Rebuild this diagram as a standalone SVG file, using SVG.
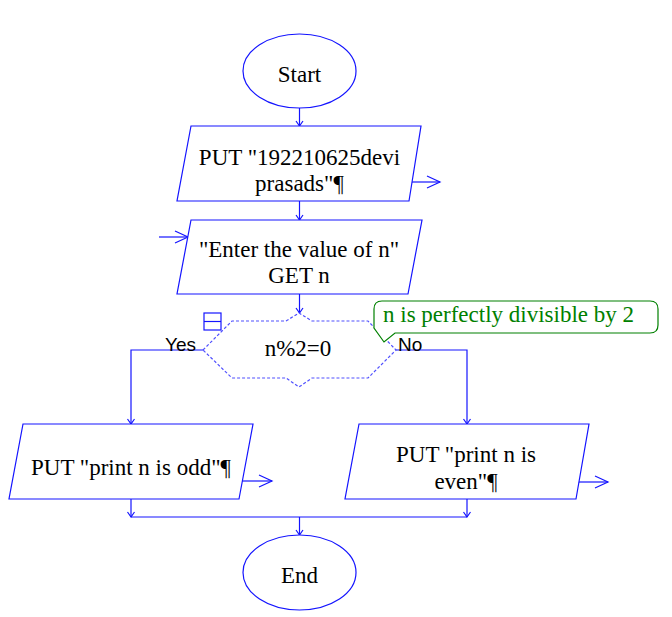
<svg xmlns="http://www.w3.org/2000/svg" width="672" height="617" viewBox="0 0 672 617">
<style>
.shape{fill:#fff;stroke:#1414ff;stroke-width:1.2}
.dec{fill:#fff;stroke:#5050ff;stroke-width:1.2;stroke-dasharray:3,2}
.t{font-family:"Liberation Serif","Times New Roman",serif;font-size:23px;fill:#000;text-anchor:middle}
.lbl{font-family:"Liberation Sans",Arial,sans-serif;font-size:19px;fill:#000}
.cm{font-family:"Liberation Serif","Times New Roman",serif;font-size:23px;fill:#008000}
.c{fill:none;stroke:#1414ff;stroke-width:1.2}
.cs{marker-end:url(#ah)}
.cl{marker-end:url(#ahl)}
</style>
<defs>
<marker id="ah" markerUnits="userSpaceOnUse" markerWidth="10" markerHeight="10" refX="5" refY="4" orient="auto" viewBox="0 0 10 10" overflow="visible">
<path d="M0,0.5 L5,4 L0,7.5" fill="none" stroke="#1414ff" stroke-width="1.2"/>
</marker>
<marker id="ahl" markerUnits="userSpaceOnUse" markerWidth="14" markerHeight="14" refX="13" refY="6" orient="auto" viewBox="0 0 14 14" overflow="visible">
<path d="M0,0 L13,6 L0,12" fill="none" stroke="#1414ff" stroke-width="1.2"/>
</marker>
</defs>
<g id="connectors">
<path class="c cs" d="M299.5,108 V126"/>
<path class="c cs" d="M299.5,201 V220"/>
<path class="c cl" d="M410,182 H440"/>
<path class="c cl" d="M159,237 H188"/>
<path class="c cs" d="M299.5,294 V313"/>
<path class="c cs" d="M203,350 H131 V424"/>
<path class="c cs" d="M396,350 H467 V424"/>
<path class="c cl" d="M240,481 H272"/>
<path class="c cl" d="M576,482 H608"/>
<path class="c cs" d="M131,499 V517"/>
<path class="c cs" d="M467,499 V517"/>
<path class="c" d="M131,517 H467"/>
<path class="c cs" d="M299.5,517 V535"/>
</g>
<g id="start">
<ellipse class="shape" cx="299.5" cy="71" rx="56.5" ry="37"/>
<text class="t" x="299.5" y="82">Start</text>
</g>
<g id="put1">
<polygon class="shape" points="191,126 421,126 409,201 177,201"/>
<text class="t" x="299.5" y="165">PUT "192210625devi</text>
<text class="t" x="299.5" y="191">prasads"¶</text>
</g>
<g id="get">
<polygon class="shape" points="191,220 422,220 408,294 177,294"/>
<text class="t" x="299" y="257">"Enter the value of n"</text>
<text class="t" x="299" y="283">GET n</text>
</g>
<g id="decision">
<polygon class="dec" points="203,350 232,321 286,321 299,313 312,321 368,321 396,350 368,378 312,378 299,387 286,378 232,378"/>
<rect x="204" y="313" width="17" height="17" fill="#fff" stroke="#1414ff" stroke-width="1.2"/>
<path d="M204,321.5 H221" stroke="#1414ff" stroke-width="1.2"/>
<text class="t" x="298" y="356">n%2=0</text>
<text class="lbl" x="165" y="351">Yes</text>
<text class="lbl" x="398" y="351">No</text>
</g>
<g id="comment">
<path d="M382,301 H650 Q658,301 658,309 V325 Q658,333 650,333 H395 L384,342 L374,328 V309 Q374,301 382,301 Z" fill="#fff" stroke="#008000" stroke-width="1.2"/>
<text class="cm" x="383" y="322">n is perfectly divisible by 2</text>
</g>
<g id="odd">
<polygon class="shape" points="23,424 253,424 239,499 9,499"/>
<text class="t" x="131" y="475">PUT "print n is odd"¶</text>
</g>
<g id="even">
<polygon class="shape" points="359,424 589,424 576,499 345,499"/>
<text class="t" x="466" y="462">PUT "print n is</text>
<text class="t" x="466" y="489">even"¶</text>
</g>
<g id="end">
<ellipse class="shape" cx="299.5" cy="572.5" rx="56.5" ry="37.5"/>
<text class="t" x="299.5" y="583">End</text>
</g>
</svg>
